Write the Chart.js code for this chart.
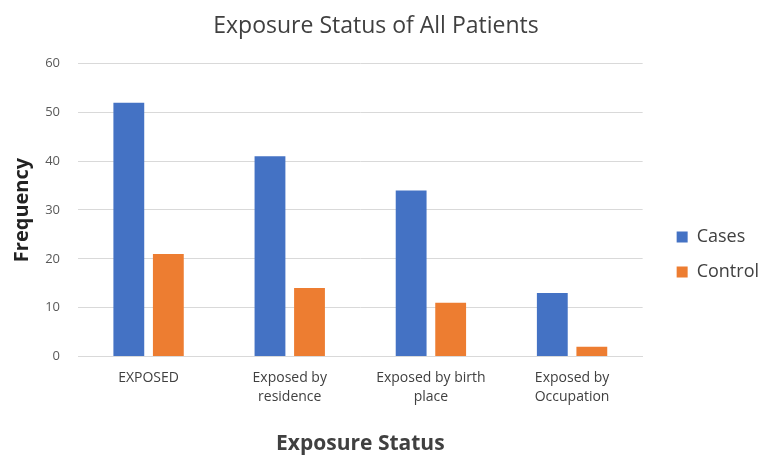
<!DOCTYPE html>
<html>
<head>
<meta charset="utf-8">
<script src="https://cdn.jsdelivr.net/npm/chart.js@4.4.0/dist/chart.umd.min.js"></script>
<style>
    html, body { margin: 0; padding: 0; background: #fff; }
    #wrap { width: 763px; height: 457px; }
</style>
</head>
<body>
<div id="wrap"><canvas id="canvas"></canvas></div>
<script>
var categories = [["EXPOSED"], ["Exposed by", "residence"], ["Exposed by birth", "place"], ["Exposed by", "Occupation"]];
var casesValues = [52, 41, 34, 13];
var controlValues = [21, 14, 11, 2];
var yTicks = [0, 10, 20, 30, 40, 50, 60];

var ctx = document.getElementById('canvas').getContext('2d');
var fontName = "'Open Sans', 'DejaVu Sans', sans-serif";

// move the legend down and right a bit, like the original sheet
var legendShift = {
    id: 'legendShift',
    afterLayout: function (chart) {
        var lg = chart.legend;
        if (lg) {
            lg.top += 22;
            lg.bottom += 22;
            lg.left += 17;
            lg.right += 17;
        }
    }
};

var myChart = new Chart(ctx, {
    type: 'bar',
    data: {
        labels: categories,
        datasets: [{
            label: "Cases",
            data: casesValues,
            backgroundColor: "#4472C4",
            categoryPercentage: 0.56,
            barPercentage: 0.78
        }, {
            label: "Control",
            data: controlValues,
            backgroundColor: "#ED7D31",
            categoryPercentage: 0.56,
            barPercentage: 0.78
        }]
    },
    plugins: [legendShift],
    options: {
        responsive: true,
        maintainAspectRatio: false,
        animation: false,
        layout: { padding: { left: 0, right: 11, top: 8, bottom: 0 } },
        plugins: {
            title: {
                display: true,
                text: 'Exposure Status of All Patients',
                color: '#404040',
                font: { family: fontName, size: 23, weight: 'normal' },
                padding: { top: 5, bottom: 23 }
            },
            legend: {
                position: 'right',
                labels: {
                    color: '#404040',
                    font: { family: fontName, size: 18 },
                    boxWidth: 11,
                    boxHeight: 11,
                    padding: 17
                }
            },
            tooltip: { enabled: false }
        },
        scales: {
            x: {
                grid: { display: false, drawTicks: false },
                border: { display: true, color: '#d9d9d9' },
                ticks: {
                    color: '#404040',
                    font: { family: fontName, size: 14, lineHeight: 1.3 },
                    padding: 13,
                    maxRotation: 0
                },
                title: {
                    display: true,
                    text: 'Exposure Status',
                    color: '#404040',
                    font: { family: fontName, size: 21, weight: 'bold' },
                    padding: { top: 13, bottom: 0 }
                }
            },
            y: {
                min: 0,
                max: 60,
                afterBuildTicks: function (axis) {
                    axis.ticks = yTicks.map(function (v) { return { value: v }; });
                },
                afterFit: function (axis) {
                    axis.width = 78;
                },
                grid: { color: '#d9d9d9', drawTicks: false },
                border: { display: false },
                ticks: {
                    color: '#595959',
                    font: { family: fontName, size: 13 },
                    padding: 18
                },
                title: {
                    display: true,
                    text: 'Frequency',
                    color: '#222222',
                    font: { family: fontName, size: 20, weight: 'bold' },
                    padding: { top: 10, bottom: 10 }
                }
            }
        }
    }
});
</script>
</body>
</html>
